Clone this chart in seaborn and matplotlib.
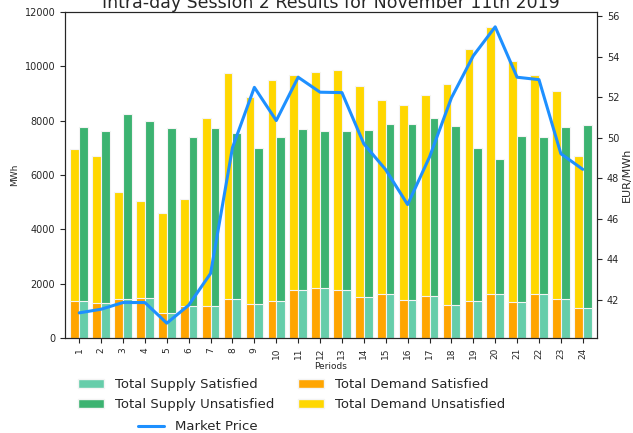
import matplotlib

matplotlib.use("Agg")
import matplotlib.pyplot as plt
import numpy as np
import pandas as pd
import seaborn as sns
from matplotlib.lines import Line2D
from matplotlib.patches import Patch

# valeurs (MWh, EUR/MWh)
periods = [str(p) for p in range(1, 25)]
demand_total = [6967, 6691, 5379, 5037, 4596, 5099, 8114, 9768, 8860, 9496, 9695, 9790,
                9864, 9276, 8761, 8577, 8934, 9338, 10636, 11434, 10195, 9695, 9081, 6702]
supply_total = [7783, 7621, 8246, 7978, 7746, 7415, 7732, 7563, 6996, 7390, 7695, 7636,
                7610, 7673, 7893, 7893, 8088, 7794, 6996, 6581, 7426, 7390, 7768, 7831]
matched_volume = [1349, 1298, 1434, 1471, 930, 1188, 1176, 1434, 1261, 1371, 1776, 1838,
                  1753, 1520, 1618, 1385, 1544, 1225, 1360, 1605, 1311, 1618, 1434, 1103]
market_price = [41.36, 41.54, 41.87, 41.87, 40.85, 41.74, 43.31, 49.52, 52.50, 50.86, 53.00, 52.26,
                52.24, 49.71, 48.43, 46.71, 49.06, 51.98, 54.06, 55.49, 53.00, 52.88, 49.22, 48.45]

SUPPLY_SAT = "#66CDAA"
SUPPLY_UNSAT = "#3CB371"
DEMAND_SAT = "#FFA500"
DEMAND_UNSAT = "#FFD700"
PRICE_COLOR = "#1E90FF"

df = pd.DataFrame({
    "Period": periods * 2,
    "Side": ["Demand"] * 24 + ["Supply"] * 24,
    "Total": demand_total + supply_total,
    "Satisfied": matched_volume + matched_volume,
})

sns.set_style("ticks")
W, H = 633, 433
fig = plt.figure(figsize=(W / 100, H / 100), dpi=100)
ax = fig.add_axes([65 / W, 1 - 338 / H, (597 - 65) / W, (338 - 12) / H])

sns.barplot(data=df, x="Period", y="Total", hue="Side", hue_order=["Demand", "Supply"],
            order=periods, palette=[DEMAND_UNSAT, SUPPLY_UNSAT], saturation=1,
            errorbar=None, legend=False, ax=ax, linewidth=0.8, edgecolor="#f4f4f4")
sns.barplot(data=df, x="Period", y="Satisfied", hue="Side", hue_order=["Demand", "Supply"],
            order=periods, palette=[DEMAND_SAT, SUPPLY_SAT], saturation=1,
            errorbar=None, legend=False, ax=ax, linewidth=0.8, edgecolor="#f4f4f4")

ax.set_ylim(0, 12000)
ax.set_xlabel("Periods", fontsize=6.5, labelpad=2)
ax.set_ylabel("MWh", fontsize=6.5)
ax.tick_params(axis="x", labelrotation=90, labelsize=6.5)
ax.tick_params(axis="y", labelsize=7)
ax.set_title("Intra-day Session 2 Results for November 11th 2019", fontsize=12.5, pad=3)

ax2 = ax.twinx()
sns.lineplot(x=np.arange(len(periods)), y=market_price, color=PRICE_COLOR, linewidth=2.2, ax=ax2)
ax2.set_ylabel("EUR/MWh", fontsize=8, labelpad=2)
ax2.tick_params(axis="y", labelsize=7)
ax.set_xlim(-0.65, 23.65)

handles = [
    Patch(facecolor=SUPPLY_SAT, edgecolor="#f4f4f4", label="Total Supply Satisfied"),
    Patch(facecolor=SUPPLY_UNSAT, edgecolor="#f4f4f4", label="Total Supply Unsatisfied"),
    Patch(facecolor=DEMAND_SAT, edgecolor="#f4f4f4", label="Total Demand Satisfied"),
    Patch(facecolor=DEMAND_UNSAT, edgecolor="#f4f4f4", label="Total Demand Unsatisfied"),
]
fig.legend(handles=handles, ncol=2, loc="upper left", bbox_to_anchor=(72.7 / W, 1 - 373 / H),
           frameon=False, fontsize=9.5, borderaxespad=0, columnspacing=1.8, labelspacing=0.5)
fig.legend(handles=[Line2D([], [], color=PRICE_COLOR, linewidth=2.2, label="Market Price")],
           loc="upper left", bbox_to_anchor=(132.7 / W, 1 - 415 / H),
           frameon=False, fontsize=9.5, borderaxespad=0)

fig.savefig("out.png", dpi=100)
